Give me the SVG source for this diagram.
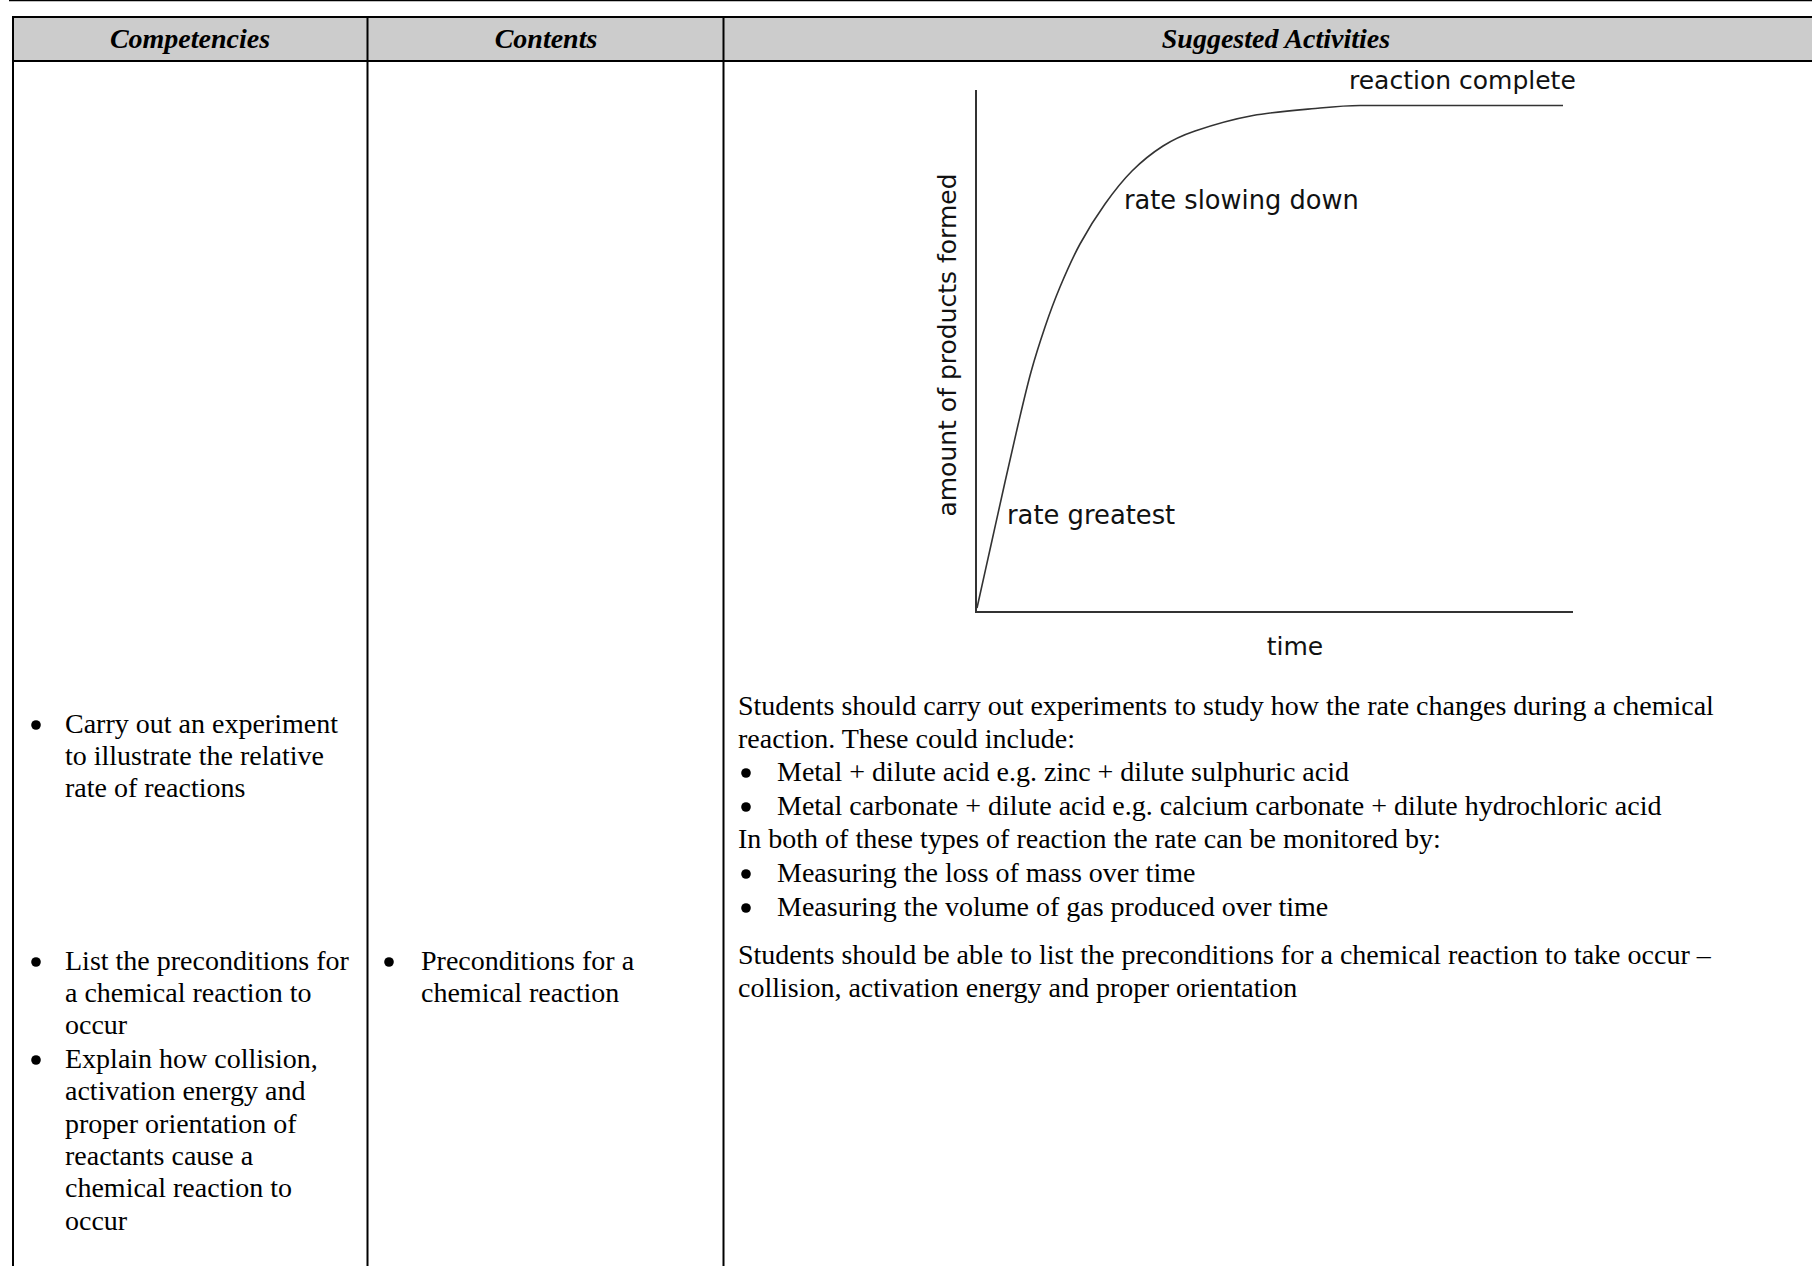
<svg xmlns="http://www.w3.org/2000/svg" width="1812" height="1266" viewBox="0 0 1812 1266">
<defs>
<circle id="bul" r="4.8" fill="#000"/>
</defs>
<style>
.t{font-family:"Liberation Serif","Times New Roman",serif;font-size:28px;fill:#000}
.h{font-family:"Liberation Serif","Times New Roman",serif;font-size:28px;font-weight:bold;font-style:italic;fill:#000}
.g{font-family:"DejaVu Sans",Verdana,sans-serif;font-size:25px;fill:#111}
.b{stroke:#000;stroke-width:2;fill:none}
.ax{stroke:#333;stroke-width:2;fill:none}
</style>
<rect width="1812" height="1266" fill="#fff"/>
<g id="table">
<line x1="9" y1="0.5" x2="1812" y2="0.5" stroke="#000" stroke-width="1.5"/>
<rect x="13" y="17" width="1830" height="44" fill="#cccccc"/>
<line class="b" x1="12" y1="17" x2="1812" y2="17"/>
<line class="b" x1="12" y1="61" x2="1812" y2="61"/>
<line class="b" x1="13" y1="16" x2="13" y2="1266"/>
<line class="b" x1="367.5" y1="16" x2="367.5" y2="1266"/>
<line class="b" x1="723.5" y1="16" x2="723.5" y2="1266"/>
</g>
<g id="header">
<text class="h" x="190" y="48" text-anchor="middle">Competencies</text>
<text class="h" x="546" y="48" text-anchor="middle">Contents</text>
<text class="h" x="1276" y="48" text-anchor="middle">Suggested Activities</text>
</g>
<g id="graph">
<line class="ax" x1="976" y1="90" x2="976" y2="613"/>
<line class="ax" x1="975" y1="612" x2="1573" y2="612"/>
<path fill="none" stroke="#333" stroke-width="1.6" stroke-linejoin="round" d="M977,608 C979.3,597.5 986.3,566 991,545 C995.7,524 1000.5,502 1005,482 C1009.5,462 1013.7,443.3 1018,425 C1022.3,406.7 1026.5,388.3 1031,372 C1035.5,355.7 1040.2,341.2 1045,327 C1049.8,312.8 1054.2,300.8 1060,287 C1065.8,273.2 1072.5,257.8 1080,244 C1087.5,230.2 1096.3,216.2 1105,204 C1113.7,191.8 1122.3,180.7 1132,171 C1141.7,161.3 1152.5,152.7 1163,146 C1173.5,139.3 1180,136.1 1195,131 C1210,125.9 1232.2,119.3 1253,115.5 C1273.8,111.7 1302.2,109.7 1320,108 C1337.8,106.3 1350,105.5 1360,105.5 L1563,105.5"/>
<text class="g" x="1349" y="89">reaction complete</text>
<text class="g" x="1124" y="209" style="font-size:25.7px">rate slowing down</text>
<text class="g" x="1007" y="524" style="font-size:25.8px">rate greatest</text>
<text class="g" x="1295" y="655" text-anchor="middle">time</text>
<text class="g" transform="translate(956,345) rotate(-90)" text-anchor="middle">amount of products formed</text>
</g>
<g id="competencies">
<use href="#bul" x="36" y="725"/>
<text class="t" x="65" y="733">Carry out an experiment</text>
<text class="t" x="65" y="765">to illustrate the relative</text>
<text class="t" x="65" y="797">rate of reactions</text>
<use href="#bul" x="36" y="962"/>
<text class="t" x="65" y="970">List the preconditions for</text>
<text class="t" x="65" y="1002">a chemical reaction to</text>
<text class="t" x="65" y="1034">occur</text>
<use href="#bul" x="36" y="1060"/>
<text class="t" x="65" y="1068">Explain how collision,</text>
<text class="t" x="65" y="1100">activation energy and</text>
<text class="t" x="65" y="1133">proper orientation of</text>
<text class="t" x="65" y="1165">reactants cause a</text>
<text class="t" x="65" y="1197">chemical reaction to</text>
<text class="t" x="65" y="1230">occur</text>
</g>
<g id="contents">
<use href="#bul" x="389" y="962"/>
<text class="t" x="421" y="970">Preconditions for a</text>
<text class="t" x="421" y="1002">chemical reaction</text>
</g>
<g id="activities">
<text class="t" x="738" y="715">Students should carry out experiments to study how the rate changes during a chemical</text>
<text class="t" x="738" y="748">reaction. These could include:</text>
<use href="#bul" x="746" y="773"/>
<text class="t" x="777" y="781">Metal + dilute acid e.g. zinc + dilute sulphuric acid</text>
<use href="#bul" x="746" y="807"/>
<text class="t" x="777" y="815">Metal carbonate + dilute acid e.g. calcium carbonate + dilute hydrochloric acid</text>
<text class="t" x="738" y="848">In both of these types of reaction the rate can be monitored by:</text>
<use href="#bul" x="746" y="874"/>
<text class="t" x="777" y="882">Measuring the loss of mass over time</text>
<use href="#bul" x="746" y="908"/>
<text class="t" x="777" y="916">Measuring the volume of gas produced over time</text>
<text class="t" x="738" y="964">Students should be able to list the preconditions for a chemical reaction to take occur –</text>
<text class="t" x="738" y="997">collision, activation energy and proper orientation</text>
</g>
</svg>
